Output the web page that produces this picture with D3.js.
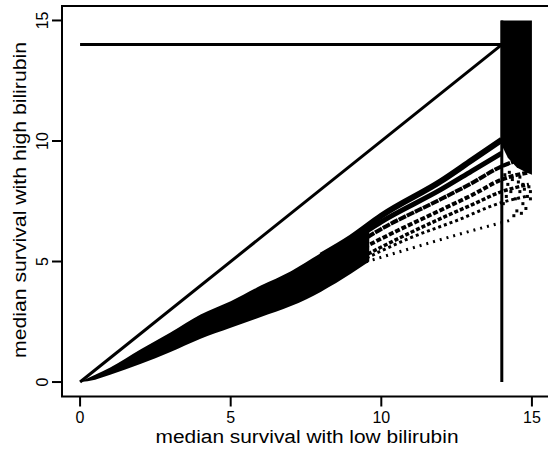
<!DOCTYPE html>
<style>
body { margin: 0; background: #fff; }
svg { font-family: "Liberation Sans", Arial, sans-serif; }
</style>
<svg width="548" height="452"></svg>
<script src="https://d3js.org/d3.v7.min.js"></script>
<script>

var xTicks = [0, 5, 10, 15],
    yTicks = [0, 5, 10, 15];

// dense band of simulated medians, lower-left part
var bandX     = [0, 0.5, 1, 2, 3, 4, 5, 6, 7, 8, 9, 9.6],
    bandUpper = [0, 0.3, 0.6, 1.35, 2.05, 2.8, 3.35, 4.0, 4.6, 5.35, 6.05, 6.4],
    bandLower = [0, 0.1, 0.3, 0.75, 1.25, 1.8, 2.25, 2.7, 3.15, 3.75, 4.5, 5.0];

// separate strands where the band fans out
var strands = [
  [[8, 5.25], [9, 6.0], [10, 6.9], [12, 8.35], [13, 9.2], [14, 10.05]],
  [[8, 5.1], [9, 5.85], [10, 6.65], [12, 8.0], [13, 8.75], [14, 9.5]],
  [[8, 4.85], [9, 5.6], [10, 6.35], [12, 7.6], [13, 8.25], [14, 8.95], [14.8, 9.3]],
  [[8, 4.6], [9, 5.3], [10, 5.95], [12, 7.15], [13, 7.75], [14, 8.4], [14.9, 8.7]],
  [[8.5, 4.6], [10, 5.6], [12, 6.8], [13, 7.35], [14, 7.9], [14.9, 8.2]],
  [[8.8, 4.7], [11, 6.0], [12.5, 6.7], [14, 7.45], [14.8, 7.7]],
  [[8.6, 4.65], [11, 5.55], [12.5, 6.1], [14.4, 6.75]]
];
var strandDash  = ["", "", "8 1", "5 2", "4 2", "3 3", "2 5"],
    strandWidth = [6, 5, 4, 4, 3.5, 3, 3];

// censored block at the right
var blockX      = [13.97, 14.2, 14.5, 14.8, 15.0],
    blockBottom = [9.9, 9.3, 8.9, 8.7, 8.6],
    blockTop    = 15;

var scatter = [
  [14.1, 8.6], [14.2, 8.2], [14.3, 7.9], [14.45, 7.6], [14.6, 7.9], [14.7, 7.4],
  [14.85, 7.7], [14.95, 7.9], [14.5, 7.1], [14.65, 7.0], [14.35, 8.4], [14.9, 8.1],
  [14.55, 8.3], [14.75, 8.0], [14.15, 7.7], [14.4, 6.9], [14.8, 7.2], [14.25, 8.7],
  [14.6, 8.5], [14.95, 7.6], [14.05, 7.4], [14.7, 8.2]
];

var refH = 14, refV = 14;

var svg = d3.select("svg");

var x = d3.scaleLinear().domain([-0.6, 15.6]).range([62, 550]),
    y = d3.scaleLinear().domain([-0.6, 15.6]).range([396.5, 6]);

// band
var bandData = bandX.map(function(d, i) { return {x: d, lo: bandLower[i], hi: bandUpper[i]}; });
svg.append("path")
    .datum(bandData)
    .attr("fill", "#000")
    .attr("d", d3.area().curve(d3.curveMonotoneX)
      .x(function(d) { return x(d.x); })
      .y0(function(d) { return y(d.lo); })
      .y1(function(d) { return y(d.hi); }));

var line = d3.line().curve(d3.curveMonotoneX)
    .x(function(d) { return x(d[0]); })
    .y(function(d) { return y(d[1]); });

svg.selectAll(".strand")
    .data(strands)
  .enter().append("path")
    .attr("class", "strand")
    .attr("fill", "none")
    .attr("stroke", "#000")
    .attr("stroke-width", function(d, i) { return strandWidth[i]; })
    .attr("stroke-dasharray", function(d, i) { return strandDash[i]; })
    .attr("d", line);

// block
var blockData = blockX.map(function(d, i) { return {x: d, lo: blockBottom[i]}; });
svg.append("path")
    .datum(blockData)
    .attr("fill", "#000")
    .attr("d", d3.area()
      .x(function(d) { return x(d.x); })
      .y0(function(d) { return y(d.lo); })
      .y1(y(blockTop)));

svg.selectAll(".pt")
    .data(scatter)
  .enter().append("rect")
    .attr("class", "pt")
    .attr("x", function(d) { return x(d[0]) - 1.5; })
    .attr("y", function(d) { return y(d[1]) - 1.5; })
    .attr("width", 3)
    .attr("height", 3)
    .attr("fill", "#000");

// reference lines
var ref = svg.append("g").attr("stroke", "#000").attr("stroke-width", 3).attr("fill", "none");
ref.append("line")
    .attr("x1", x(0)).attr("y1", y(refH)).attr("x2", x(refV)).attr("y2", y(refH));
ref.append("line")
    .attr("x1", x(0)).attr("y1", y(0)).attr("x2", x(refV)).attr("y2", y(refH));
ref.append("line")
    .attr("x1", x(refV)).attr("y1", y(0)).attr("x2", x(refV)).attr("y2", y(blockTop));

// box
svg.append("rect")
    .attr("x", x.range()[0]).attr("y", y.range()[1])
    .attr("width", x.range()[1] - x.range()[0])
    .attr("height", y.range()[0] - y.range()[1])
    .attr("fill", "none").attr("stroke", "#000").attr("stroke-width", 2);

// x axis
var xa = svg.append("g");
xa.selectAll("line").data(xTicks).enter().append("line")
    .attr("x1", x).attr("x2", x)
    .attr("y1", y.range()[0]).attr("y2", y.range()[0] + 10)
    .attr("stroke", "#000").attr("stroke-width", 2);
xa.selectAll("text").data(xTicks).enter().append("text")
    .attr("x", x).attr("y", 423)
    .attr("text-anchor", "middle")
    .style("font-size", "16px")
    .text(function(d) { return d; });
svg.append("text")
    .attr("x", 307).attr("y", 443)
    .attr("text-anchor", "middle")
    .attr("textLength", 303)
    .attr("lengthAdjust", "spacingAndGlyphs")
    .style("font-size", "18px")
    .text("median survival with low bilirubin");

// y axis
var ya = svg.append("g");
ya.selectAll("line").data(yTicks).enter().append("line")
    .attr("y1", y).attr("y2", y)
    .attr("x1", x.range()[0]).attr("x2", x.range()[0] - 10)
    .attr("stroke", "#000").attr("stroke-width", 2);
ya.selectAll("text").data(yTicks).enter().append("text")
    .attr("transform", function(d) { return "translate(48," + y(d) + ") rotate(-90)"; })
    .attr("text-anchor", "middle")
    .style("font-size", "16px")
    .text(function(d) { return d; });
svg.append("text")
    .attr("transform", "translate(26,200) rotate(-90)")
    .attr("text-anchor", "middle")
    .attr("textLength", 316)
    .attr("lengthAdjust", "spacingAndGlyphs")
    .style("font-size", "18px")
    .text("median survival with high bilirubin");

</script>
